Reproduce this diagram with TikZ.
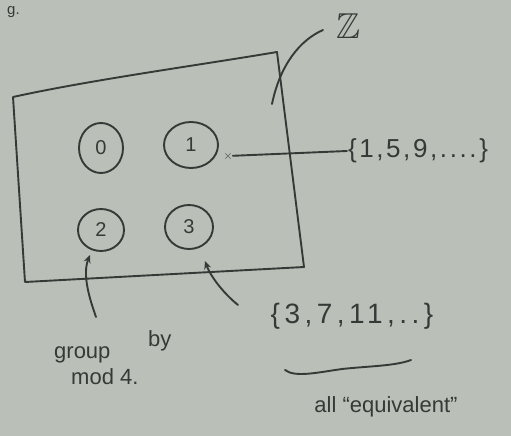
\documentclass[tikz,border=0pt]{standalone}
\usepackage{fontspec}
\usepackage{amssymb}
\setmainfont{Liberation Sans}
\usetikzlibrary{shapes.geometric,arrows.meta}
\definecolor{paper}{RGB}{186,192,184}
\definecolor{ink}{RGB}{55,57,55}
\tikzset{
  inkline/.style={draw=ink, line width=1.9pt, line cap=round, line join=round},
  elem/.style={ellipse, draw=ink, line width=1.9pt, inner sep=0pt, text=ink, font=\fontsize{20}{20}\selectfont},
  lbl/.style={text=ink, inner sep=1pt, font=\fontsize{26}{28}\selectfont\addfontfeature{LetterSpace=10}},
  small/.style={text=ink, inner sep=1pt, font=\fontsize{22}{24}\selectfont},
  tip/.style={-{Stealth[length=8pt,width=7pt]}}
}
\begin{document}
\begin{tikzpicture}[x=1pt,y=-1pt]
\fill[paper] (0,0) rectangle (511,436);
\useasboundingbox (0,0) rectangle (511,436);
% partial text at top-left
\node[text=ink, font=\fontsize{15}{15}\selectfont, inner sep=0pt, anchor=north west] (frag) at (7,6) {g.};
% the set Z drawn as a quadrilateral
\coordinate (tl) at (13,97);
\coordinate (tr) at (277,52);
\coordinate (br) at (304,267);
\coordinate (bl) at (25,282);
\draw[inkline] (tl) .. controls (90,80) and (200,65) .. (tr) -- (br) -- (bl) -- cycle;
% elements
\node[elem, minimum width=44, minimum height=50] (c0) at (101,148) {0};
\node[elem, minimum width=54, minimum height=46] (c1) at (191,145) {1};
\node[elem, minimum width=46, minimum height=42] (c2) at (101,230) {2};
\node[elem, minimum width=48, minimum height=44] (c3) at (189,227) {3};
% Z label
\node[text=ink, font=\fontsize{36}{36}\selectfont, inner sep=0pt] (Z) at (348,26) {$\mathbb{Z}$};
\coordinate (zin) at (272,104);
\draw[inkline] (323,30) .. controls (300,40) and (280,65) .. (zin);
% class of 1
\node[lbl] (s1) at (418,151) {\{1,5,9,....\}};
\node[text=ink, font=\fontsize{12}{12}\selectfont, inner sep=0pt] (m1) at (228,156) {$\times$};
\draw[inkline] (m1) -- (s1.west);
% class of 3
\node[lbl, font=\fontsize{28}{30}\selectfont\addfontfeature{LetterSpace=16}] (s3) at (352,316) {\{3,7,11,..\}};
\coordinate (p3) at (205,261);
\draw[inkline, tip] (238,305) .. controls (222,292) and (210,275) .. (p3);
% group by mod 4
\node[small, anchor=base west] (g1) at (53,358) {group};
\node[small, anchor=base west] (g2) at (147,346) {by};
\node[small, anchor=base west] (g3) at (70,384) {mod 4.};
\coordinate (p2) at (90,255);
\draw[inkline, tip] (96,317) .. controls (90,300) and (82,275) .. (p2);
% wavy brace
\coordinate (wa) at (285,370);
\coordinate (wb) at (411,360);
\draw[inkline] (wa) .. controls (295,378) and (320,372) .. (342,369) .. controls (370,366) and (395,366) .. (wb);
\node[small] (eq) at (386,407) {all ``equivalent''};
\end{tikzpicture}
\end{document}
